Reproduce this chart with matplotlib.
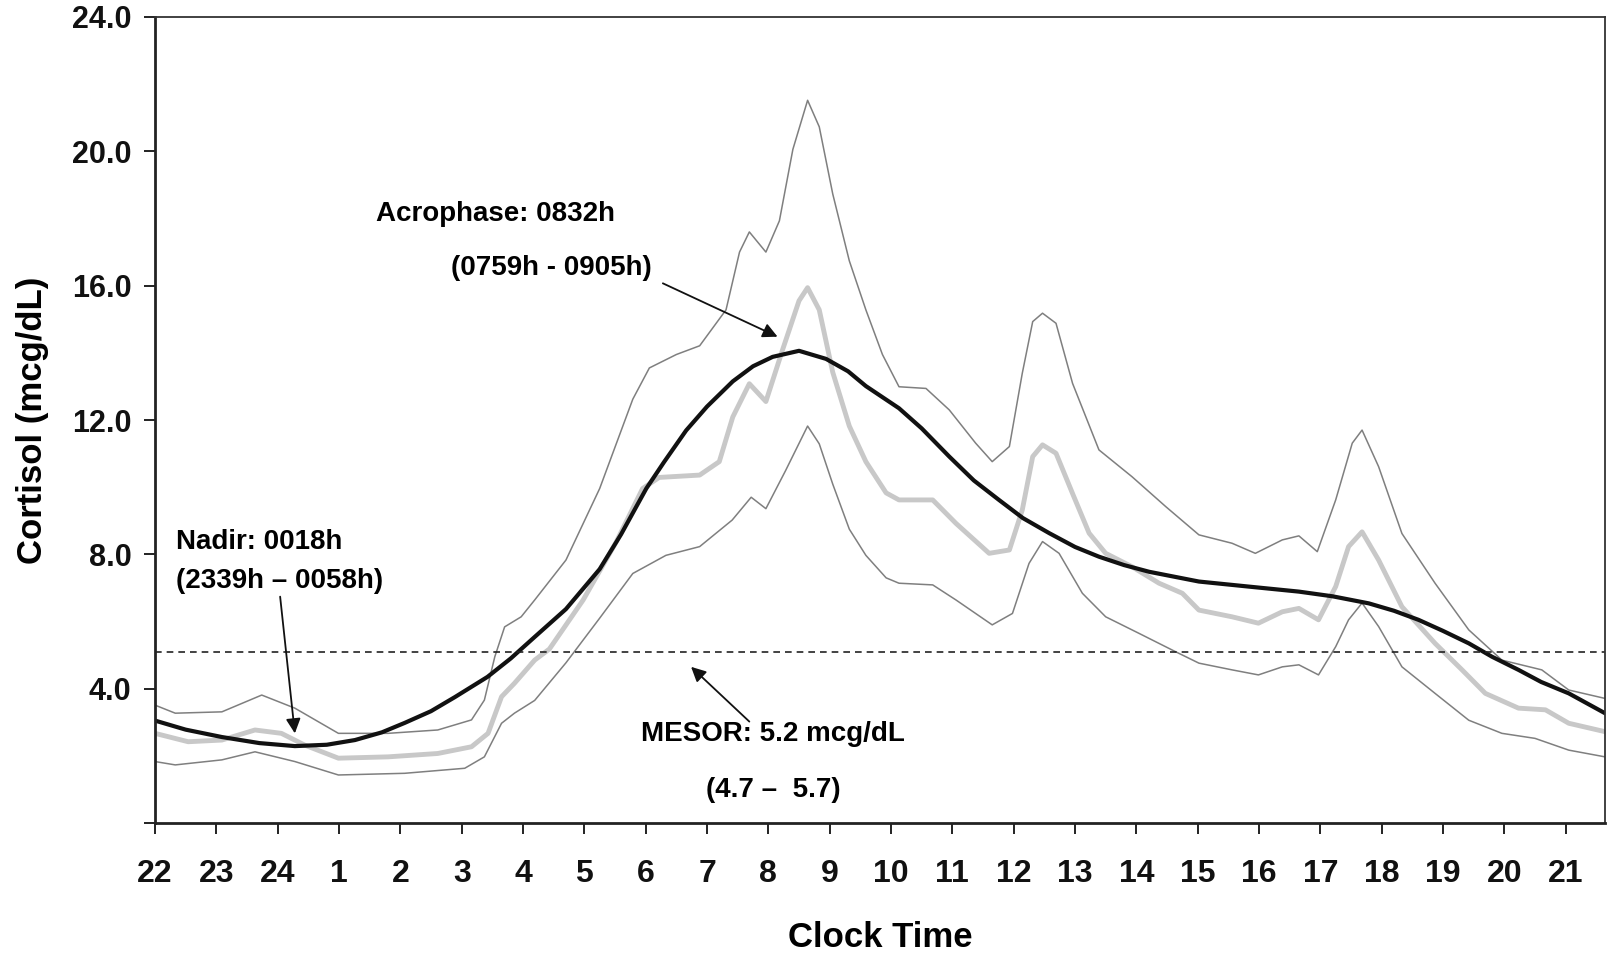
import matplotlib
matplotlib.use("Agg")
import matplotlib.pyplot as plt

plt.rcParams['font.family'] = ['Liberation Sans', 'DejaVu Sans']
plt.rcParams['font.weight'] = 'bold'

# x is hours elapsed since 22:00 (tick 0 = "22")
hour_labels = ["22", "23", "24", "1", "2", "3", "4", "5", "6", "7", "8", "9",
               "10", "11", "12", "13", "14", "15", "16", "17", "18", "19", "20", "21"]

fit_x = [0, 0.5, 1.09, 1.7, 2.28, 2.8, 3.26, 3.7, 4.07, 4.5, 4.89, 5.42, 5.8, 6.19, 6.70,
         7.25, 7.6, 8.01, 8.3, 8.66, 9.0, 9.42, 9.75, 10.07, 10.50, 10.94, 11.3, 11.59,
         12.13, 12.5, 12.95, 13.35, 13.76, 14.15, 14.58, 15.0, 15.39, 15.8, 16.21, 17.02,
         17.83, 18.65, 19.2, 19.79, 20.2, 20.6, 21.0, 21.42, 21.8, 22.23, 22.6, 23.05, 23.64]
fit_y = [3.05, 2.78, 2.56, 2.38, 2.29, 2.33, 2.47, 2.7, 2.98, 3.33, 3.75, 4.35, 4.9, 5.54, 6.37,
         7.56, 8.6, 9.96, 10.75, 11.69, 12.4, 13.15, 13.6, 13.88, 14.06, 13.82, 13.45, 13.01,
         12.35, 11.75, 10.91, 10.2, 9.62, 9.08, 8.63, 8.22, 7.93, 7.68, 7.48, 7.19,
         7.04, 6.89, 6.75, 6.54, 6.32, 6.05, 5.72, 5.35, 4.95, 4.56, 4.2, 3.86, 3.27]

median_x = [0, 0.54, 1.09, 1.63, 2.06, 2.44, 2.99, 3.80, 4.61, 5.16, 5.43, 5.65, 5.86, 6.19,
            6.43, 6.98, 7.52, 7.95, 8.22, 8.88, 9.20, 9.42, 9.69, 9.96, 10.23, 10.50, 10.64,
            10.83, 11.05, 11.32, 11.59, 11.92, 12.13, 12.68, 13.06, 13.60, 13.93, 14.14, 14.31,
            14.47, 14.69, 14.96, 15.23, 15.50, 15.93, 16.37, 16.75, 17.02, 17.56, 17.99, 18.38,
            18.65, 18.97, 19.25, 19.46, 19.68, 19.95, 20.33, 20.87, 21.31, 21.69, 22.23, 22.67,
            23.05, 23.64]
median_y = [2.67, 2.42, 2.47, 2.77, 2.67, 2.32, 1.93, 1.97, 2.07, 2.27, 2.67, 3.76, 4.16, 4.85,
            5.18, 6.64, 8.37, 9.96, 10.29, 10.36, 10.76, 12.09, 13.08, 12.55, 14.08, 15.55, 15.94,
            15.28, 13.42, 11.82, 10.76, 9.83, 9.62, 9.62, 8.92, 8.03, 8.13, 9.32, 10.91,
            11.26, 11.01, 9.81, 8.63, 8.03, 7.63, 7.14, 6.84, 6.34, 6.14, 5.95, 6.29,
            6.39, 6.05, 7.04, 8.23, 8.67, 7.83, 6.44, 5.35, 4.56, 3.86, 3.42, 3.37,
            2.97, 2.72]

upper_x = [0, 0.33, 1.09, 1.74, 2.28, 2.99, 3.80, 4.61, 5.16, 5.37, 5.54, 5.70, 5.97, 6.19,
           6.70, 7.25, 7.79, 8.06, 8.50, 8.88, 9.31, 9.53, 9.69, 9.96, 10.18, 10.40, 10.64,
           10.83, 11.05, 11.32, 11.59, 11.86, 12.13, 12.57, 12.95, 13.38, 13.65, 13.93, 14.14,
           14.31, 14.47, 14.69, 14.96, 15.39, 15.93, 16.48, 17.02, 17.56, 17.94, 18.38, 18.65,
           18.95, 19.25, 19.52, 19.68, 19.95, 20.33, 20.87, 21.42, 21.96, 22.61, 23.05, 23.64]
upper_y = [3.51, 3.27, 3.31, 3.81, 3.42, 2.67, 2.67, 2.77, 3.07, 3.66, 4.95, 5.84, 6.14, 6.64,
           7.83, 9.96, 12.62, 13.55, 13.95, 14.21, 15.28, 17.0, 17.60, 17.0, 17.93, 20.06, 21.52,
           20.73, 18.73, 16.74, 15.28, 13.95, 12.99, 12.94, 12.30, 11.31, 10.76, 11.21, 13.39,
           14.93, 15.18, 14.88, 13.09, 11.11, 10.31, 9.42, 8.58, 8.33, 8.03, 8.43, 8.55,
           8.08, 9.62, 11.31, 11.70, 10.61, 8.62, 7.14, 5.75, 4.85, 4.56, 3.96, 3.71]

lower_x = [0, 0.33, 1.09, 1.63, 2.28, 2.99, 4.07, 5.05, 5.37, 5.65, 5.86, 6.19, 6.70, 7.25,
           7.79, 8.33, 8.88, 9.41, 9.72, 9.96, 10.28, 10.64, 10.83, 11.05, 11.32, 11.59, 11.92,
           12.13, 12.68, 13.06, 13.65, 13.98, 14.25, 14.47, 14.74, 15.12, 15.50, 16.04, 16.64,
           17.02, 17.56, 17.99, 18.38, 18.65, 18.97, 19.25, 19.46, 19.68, 19.95, 20.33, 20.87,
           21.42, 21.96, 22.50, 23.05, 23.64]
lower_y = [1.83, 1.73, 1.88, 2.12, 1.83, 1.43, 1.48, 1.63, 1.97, 2.97, 3.27, 3.65, 4.77, 6.1,
           7.43, 7.97, 8.23, 9.02, 9.70, 9.36, 10.49, 11.82, 11.29, 10.09, 8.75, 7.97, 7.30,
           7.14, 7.09, 6.64, 5.90, 6.24, 7.73, 8.38, 8.03, 6.84, 6.14, 5.65, 5.10,
           4.76, 4.56, 4.41, 4.65, 4.71, 4.41, 5.25, 6.05, 6.55, 5.85, 4.65, 3.86,
           3.06, 2.67, 2.52, 2.17, 1.97]

mesor = 5.1

fig = plt.figure(figsize=(16.08, 9.6), dpi=100)
ax = fig.add_axes([0.0964, 0.1427, 0.9017, 0.8396])

ax.plot(upper_x, upper_y, color='#7f7f7f', lw=1.1, solid_joinstyle='round')
ax.plot(lower_x, lower_y, color='#7f7f7f', lw=1.1, solid_joinstyle='round')
ax.plot(median_x, median_y, color='#c8c8c8', lw=3.5, solid_joinstyle='round',
        solid_capstyle='round')
ax.plot(fit_x, fit_y, color='#111111', lw=3.0, solid_joinstyle='round')
ax.axhline(mesor, color='#222222', lw=1.2, linestyle=(0, (4, 3)))

ax.set_xlim(0, 23.64)
ax.set_ylim(0, 24)
ax.set_xticks(range(len(hour_labels)))
ax.set_xticklabels(hour_labels)
ax.set_yticks([0, 4, 8, 12, 16, 20, 24])
ax.set_yticklabels(["", "4.0", "8.0", "12.0", "16.0", "20.0", "24.0"])
ax.tick_params(axis='x', labelsize=23, length=8, width=1.3, pad=18, colors='#111111')
ax.tick_params(axis='y', labelsize=22, length=8, width=1.3, pad=9, colors='#111111')

for side in ['left', 'bottom']:
    ax.spines[side].set_linewidth(2.0)
    ax.spines[side].set_color('#222222')
for side in ['top', 'right']:
    ax.spines[side].set_linewidth(1.3)
    ax.spines[side].set_color('#333333')

ax.set_xlabel("Clock Time", fontsize=25, fontweight='bold')
ax.set_ylabel("Cortisol (mcg/dL)", fontsize=25, fontweight='bold')
ax.xaxis.set_label_coords(0.5, -0.122)
ax.yaxis.set_label_coords(-0.073, 0.5)

arrow = dict(arrowstyle='-|>', color='#111111', lw=1.3, mutation_scale=22,
             shrinkA=0, shrinkB=0)

ax.text(3.6, 18.13, "Acrophase: 0832h", fontsize=20, fontweight='bold', va='center', ha='left')
ax.text(4.82, 16.53, "(0759h - 0905h)", fontsize=20, fontweight='bold', va='center', ha='left')
ax.annotate("", xy=(10.15, 14.48), xytext=(8.28, 16.07), arrowprops=arrow)

ax.text(0.34, 8.37, "Nadir: 0018h", fontsize=20, fontweight='bold', va='center', ha='left')
ax.text(0.34, 7.22, "(2339h \u2013 0058h)", fontsize=20, fontweight='bold', va='center', ha='left')
ax.annotate("", xy=(2.28, 2.67), xytext=(2.04, 6.74), arrowprops=arrow)

ax.text(7.93, 2.65, "MESOR: 5.2 mcg/dL", fontsize=20, fontweight='bold', va='center', ha='left')
ax.text(8.99, 0.98, "(4.7 \u2013  5.7)", fontsize=20, fontweight='bold', va='center', ha='left')
ax.annotate("", xy=(8.74, 4.65), xytext=(9.69, 3.02), arrowprops=arrow)

fig.savefig("out.png", dpi=100)
